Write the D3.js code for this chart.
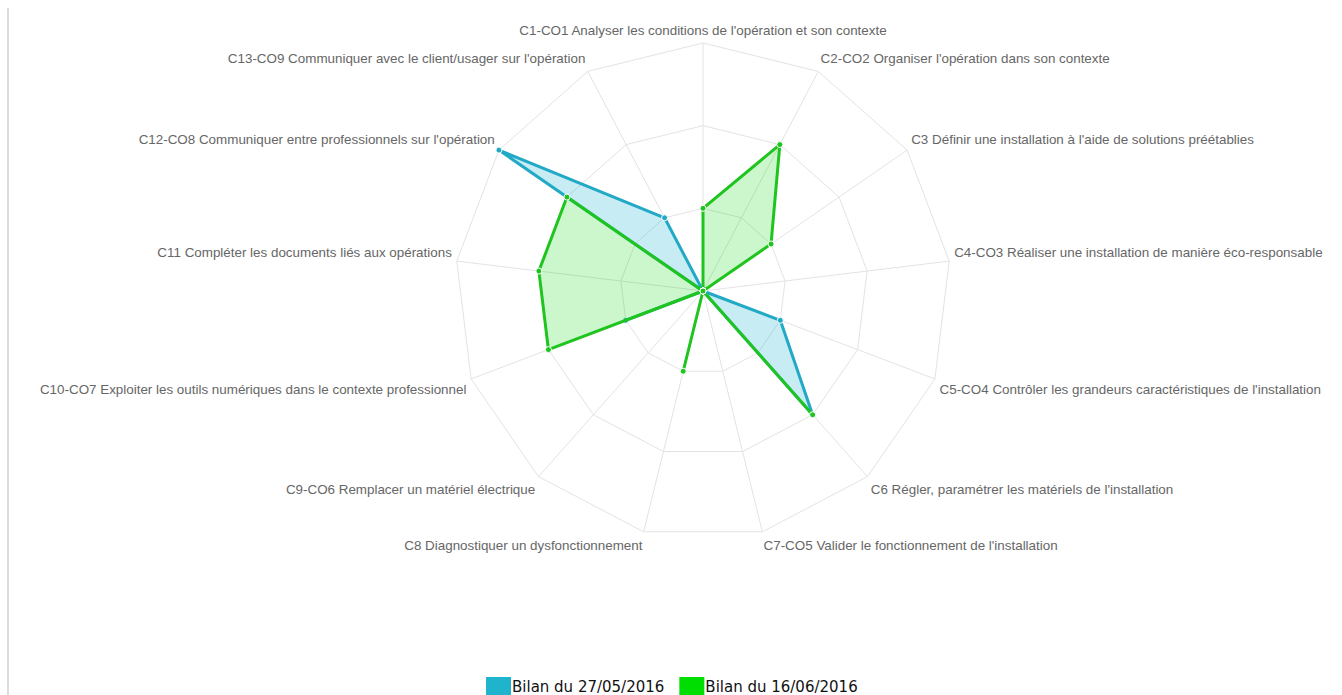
<!DOCTYPE html>
<html>
<head>
<meta charset="utf-8">
<script src="https://cdn.jsdelivr.net/npm/d3@7"></script>
<style>
  body { margin: 0; background: #fff; }
  svg { display: block; }
</style>
</head>
<body>
<svg id="chart" width="1342" height="695"></svg>
<script>
"use strict"

// competences (axes), clockwise from the top
var categories = [
    "C1-CO1 Analyser les conditions de l'opération et son contexte",
    "C2-CO2 Organiser l'opération dans son contexte",
    "C3 Définir une installation à l'aide de solutions préétablies",
    "C4-CO3 Réaliser une installation de manière éco-responsable",
    "C5-CO4 Contrôler les grandeurs caractéristiques de l'installation",
    "C6 Régler, paramétrer les matériels de l'installation",
    "C7-CO5 Valider le fonctionnement de l'installation",
    "C8 Diagnostiquer un dysfonctionnement",
    "C9-CO6 Remplacer un matériel électrique",
    "C10-CO7 Exploiter les outils numériques dans le contexte professionnel",
    "C11 Compléter les documents liés aux opérations",
    "C12-CO8 Communiquer entre professionnels sur l'opération",
    "C13-CO9 Communiquer avec le client/usager sur l'opération"
];

var seriesNames = ["Bilan du 27/05/2016", "Bilan du 16/06/2016"];
var bilan1 = [0, 0, 0, 0, 1, 2, 0, 0, 0, 1, 0, 3, 1];
var bilan2 = [1, 2, 1, 0, 0, 2, 0, 1, 0, 2, 2, 2, 0];
var levels = [1, 2, 3];

var CX = 703, CY = 291, R = 248;

var svg = d3.select("#chart");

// left border line of the container
svg.append("line")
    .attr("x1", 8).attr("x2", 8)
    .attr("y1", 8).attr("y2", 695)
    .attr("stroke", "#dcdcdc")
    .attr("stroke-width", 2);

var r = d3.scaleLinear().domain([0, 3]).range([0, R]);
var angle = d3.scalePoint().domain(d3.range(categories.length))
    .range([0, 2 * Math.PI * (categories.length - 1) / categories.length]);

function pos(i, dist) {
    var a = angle(i);
    return [CX + dist * Math.sin(a), CY - dist * Math.cos(a)];
}

var g = svg.append("g");

// grid polygons
levels.forEach(function(l) {
    var pts = categories.map(function(c, i) { return pos(i, r(l)); });
    g.append("polygon")
        .attr("points", pts.map(function(p) { return p.join(","); }).join(" "))
        .attr("fill", "none")
        .attr("stroke", "#e3e3e3")
        .attr("stroke-width", 1);
});

// spokes
categories.forEach(function(c, i) {
    var p = pos(i, R);
    g.append("line")
        .attr("x1", CX).attr("y1", CY)
        .attr("x2", p[0]).attr("y2", p[1])
        .attr("stroke", "#e3e3e3")
        .attr("stroke-width", 1);
});

// point labels
categories.forEach(function(c, i) {
    var p = pos(i, R + 5);
    var deg = angle(i) * 180 / Math.PI;
    var anchor = (deg === 0 || deg === 180) ? "middle" : (deg < 180 ? "start" : "end");
    var dy = (deg > 90 && deg < 270) ? 9 : -8;
    g.append("text")
        .attr("x", p[0])
        .attr("y", p[1] + dy)
        .attr("text-anchor", anchor)
        .attr("dominant-baseline", "central")
        .attr("font-family", "'Liberation Sans', Arial, sans-serif")
        .attr("font-size", "13.4px")
        .attr("fill", "#666")
        .text(c);
});

var styles = [
    { stroke: "#22a9c6", fill: "rgba(32,180,206,0.25)", box: "#1fb3cc" },
    { stroke: "#1fc41f", fill: "rgba(0,215,0,0.2)", box: "#00dd00" }
];

var line = d3.lineRadial()
    .angle(function(d, i) { return angle(i); })
    .radius(function(d) { return r(d); })
    .curve(d3.curveLinearClosed);

[bilan1, bilan2].forEach(function(values, s) {
    var sg = g.append("g").attr("transform", "translate(" + CX + "," + CY + ")");
    sg.append("path")
        .attr("d", line(values))
        .attr("fill", styles[s].fill)
        .attr("stroke", styles[s].stroke)
        .attr("stroke-width", 3)
        .attr("stroke-linejoin", "round");
    sg.selectAll("circle")
        .data(values)
        .enter().append("circle")
        .attr("cx", function(d, i) { return r(d) * Math.sin(angle(i)); })
        .attr("cy", function(d, i) { return -r(d) * Math.cos(angle(i)); })
        .attr("r", 3)
        .attr("fill", styles[s].stroke)
        .attr("stroke", "#fff")
        .attr("stroke-width", 1);
});

// legend
var legend = svg.append("g");
var lx = 486;
seriesNames.forEach(function(name, s) {
    legend.append("rect")
        .attr("x", lx).attr("y", 677)
        .attr("width", 25).attr("height", 18)
        .attr("fill", styles[s].box);
    var t = legend.append("text")
        .attr("x", lx + 26)
        .attr("y", 692)
        .attr("font-family", "'DejaVu Sans', Verdana, sans-serif")
        .attr("font-size", "15px")
        .attr("fill", "#111")
        .text(name);
    lx += 26 + t.node().getComputedTextLength() + 15;
});
</script>
</body>
</html>
